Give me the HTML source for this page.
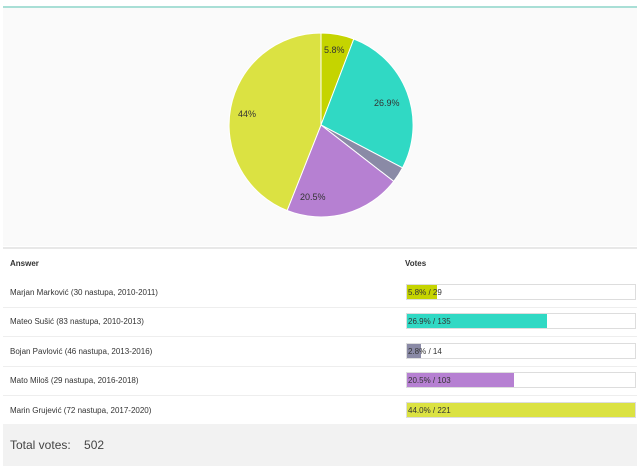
<!DOCTYPE html>
<html><head><meta charset="utf-8"><style>
body{margin:0;width:640px;height:469px;background:#fff;font-family:"Liberation Sans",sans-serif;position:relative;overflow:hidden}
.a{position:absolute}
.t{font-size:8px;color:#333}
.bar{position:absolute;left:406px;width:230px;height:16px;border:1px solid #ddd;background:#fff;box-sizing:border-box}
.bar div{height:100%}
.bar span{position:absolute;left:1px;top:3px;font-size:8px;color:#333}
.sep{position:absolute;left:3px;width:634px;height:1px;background:#eee}
</style></head><body>
<div class="a" style="left:3px;top:6px;width:634px;height:2px;background:#a9dfd6"></div>
<div class="a" style="left:3px;top:8px;width:634px;height:238px;background:#fafafa"></div>
<svg class="a" style="left:0;top:0" width="640" height="240">
<g stroke="#fff" stroke-width="1">
<path d="M321,125 L321,33 A92,92 0 0 1 353.8,39 Z" fill="#c5d400"/>
<path d="M321,125 L353.8,39 A92,92 0 0 1 402.5,167.8 Z" fill="#30d9c4"/>
<path d="M321,125 L402.5,167.8 A92,92 0 0 1 393.7,181.4 Z" fill="#8a8aa6"/>
<path d="M321,125 L393.7,181.4 A92,92 0 0 1 287.1,210.5 Z" fill="#b680d2"/>
<path d="M321,125 L287.1,210.5 A92,92 0 0 1 321,33 Z" fill="#dbe242"/>
</g>
<g font-family="Liberation Sans" font-size="9" fill="#333">
<text x="324" y="53">5.8%</text>
<text x="374" y="106">26.9%</text>
<text x="300" y="200">20.5%</text>
<text x="238" y="117">44%</text>
</g>
</svg>
<div class="a" style="left:3px;top:247px;width:634px;height:2px;background:#e8e8e8"></div>
<div class="a t" style="left:10px;top:259px;font-weight:bold">Answer</div>
<div class="a t" style="left:405px;top:259px;font-weight:bold">Votes</div>
<div class="a t" style="left:10px;top:288px">Marjan Marković (30 nastupa, 2010-2011)</div>
<div class="bar" style="top:284px"><div style="width:30px;background:#c5d400"></div><span>5.8% / 29</span></div>
<div class="sep" style="top:307px"></div>
<div class="a t" style="left:10px;top:317px">Mateo Sušić (83 nastupa, 2010-2013)</div>
<div class="bar" style="top:313px"><div style="width:140px;background:#30d9c4"></div><span>26.9% / 135</span></div>
<div class="sep" style="top:336px"></div>
<div class="a t" style="left:10px;top:347px">Bojan Pavlović (46 nastupa, 2013-2016)</div>
<div class="bar" style="top:343px"><div style="width:14px;background:#8a8aa6"></div><span>2.8% / 14</span></div>
<div class="sep" style="top:366px"></div>
<div class="a t" style="left:10px;top:376px">Mato Miloš (29 nastupa, 2016-2018)</div>
<div class="bar" style="top:372px"><div style="width:107px;background:#b680d2"></div><span>20.5% / 103</span></div>
<div class="sep" style="top:395px"></div>
<div class="a t" style="left:10px;top:406px">Marin Grujević (72 nastupa, 2017-2020)</div>
<div class="bar" style="top:402px"><div style="width:100%;background:#dbe242"></div><span>44.0% / 221</span></div>
<div class="a" style="left:3px;top:424px;width:634px;height:42px;background:#f2f2f2"></div>
<div class="a" style="left:10px;top:438px;font-size:12px;color:#444">Total votes:&nbsp;&nbsp;&nbsp; 502</div>
</body></html>
